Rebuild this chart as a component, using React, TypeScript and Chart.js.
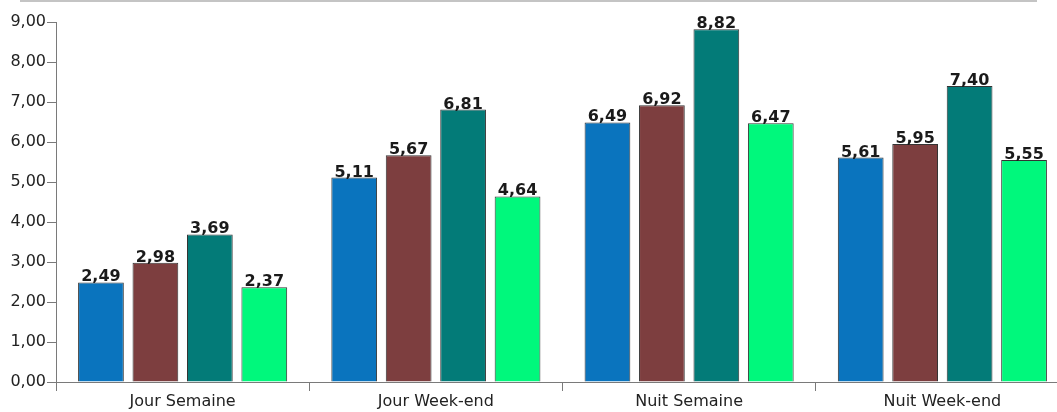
import React, { useEffect, useRef } from "react";
import { Chart, registerables } from "chart.js";

Chart.register(...registerables);

const categories = ["Jour Semaine", "Jour Week-end", "Nuit Semaine", "Nuit Week-end"];
const series1 = [2.49, 5.11, 6.49, 5.61];
const series2 = [2.98, 5.67, 6.92, 5.95];
const series3 = [3.69, 6.81, 8.82, 7.4];
const series4 = [2.37, 4.64, 6.47, 5.55];
const seriesColors = ["#0a74be", "#7d3e3f", "#037b78", "#00f87c"];
const yMin = 0;
const yMax = 9;
const yStep = 1;

const fmt = (v: number) => v.toFixed(2).replace(".", ",");

const labelPlugin = {
  id: "valueLabels",
  afterDatasetsDraw(chart: any) {
    const ctx = chart.ctx;
    ctx.save();
    ctx.font = "bold 16px 'DejaVu Sans'";
    ctx.fillStyle = "#1a1a1a";
    ctx.textAlign = "center";
    ctx.textBaseline = "alphabetic";
    chart.data.datasets.forEach((ds: any, i: number) => {
      const meta = chart.getDatasetMeta(i);
      meta.data.forEach((bar: any, j: number) => {
        ctx.fillText(fmt(ds.data[j]), bar.x, bar.y - 1);
      });
    });
    ctx.restore();
  },
};

export default function App() {
  const ref = useRef<HTMLCanvasElement | null>(null);
  useEffect(() => {
    if (!ref.current) return;
    const data = [series1, series2, series3, series4];
    const chart = new Chart(ref.current, {
      type: "bar",
      data: {
        labels: categories,
        datasets: data.map((d, i) => ({
          label: "S" + (i + 1),
          data: d,
          backgroundColor: seriesColors[i],
          borderColor: "rgba(30,30,30,0.9)",
          borderWidth: 1,
          barPercentage: 0.84,
          categoryPercentage: 0.86,
        })),
      },
      options: {
        animation: false,
        responsive: true,
        maintainAspectRatio: false,
        layout: { padding: { top: 22, left: 0, right: 0, bottom: 0 } },
        plugins: { legend: { display: false }, tooltip: { enabled: false } },
        scales: {
          x: {
            offset: true,
            grid: {
              offset: true,
              drawOnChartArea: false,
              drawTicks: true,
              tickLength: 9,
              color: "#7a7a7a",
            },
            border: { color: "#7a7a7a", width: 1 },
            ticks: {
              color: "#222",
              font: { family: "'DejaVu Sans'", size: 16 },
              padding: 1,
              maxRotation: 0,
              autoSkip: false,
            },
            afterFit: (s: any) => {
              s.height = 30;
            },
          },
          y: {
            min: yMin,
            max: yMax,
            grid: {
              drawOnChartArea: false,
              drawTicks: true,
              tickLength: 9,
              color: "#7a7a7a",
            },
            border: { color: "#7a7a7a", width: 1 },
            ticks: {
              stepSize: yStep,
              color: "#222",
              font: { family: "'DejaVu Sans'", size: 16 },
              padding: 1,
              callback: (v: any) => fmt(Number(v)),
            },
            afterFit: (s: any) => {
              s.width = 56;
            },
          },
        },
      },
      plugins: [labelPlugin],
    });
    return () => chart.destroy();
  }, []);

  return (
    <div
      style={{
        position: "fixed",
        left: 0,
        top: 0,
        width: 1057,
        height: 412,
        overflow: "hidden",
        background: "#fff",
      }}
    >
      <div
        style={{
          position: "absolute",
          left: 20,
          top: 0,
          width: 1017,
          height: 0,
          borderTop: "2px solid #c4c4c4",
        }}
      />
      <div style={{ position: "absolute", left: 0, top: 0, width: 1069, height: 412 }}>
        <canvas ref={ref} />
      </div>
    </div>
  );
}
